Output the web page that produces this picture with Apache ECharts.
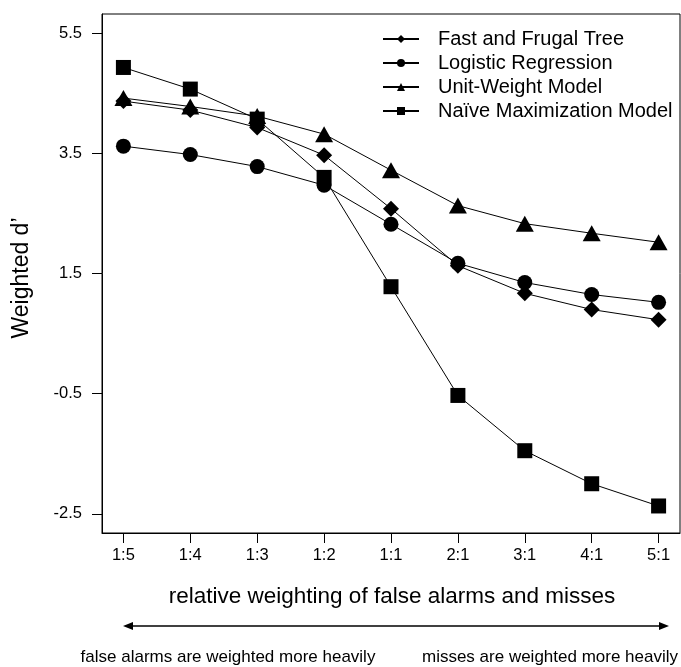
<!DOCTYPE html>
<html>
<head>
<meta charset="utf-8">
<script src="https://cdn.jsdelivr.net/npm/echarts@6/dist/echarts.min.js"></script>
<style>
html,body{margin:0;padding:0;background:#fff;}
#c{width:681px;height:667px;}
</style>
</head>
<body>
<div id="c"></div>
<script>
const categories = ['1:5','1:4','1:3','1:2','1:1','2:1','3:1','4:1','5:1'];
const yTicks = [-2.5, -0.5, 1.5, 3.5, 5.5];
const fastFrugal = [4.37, 4.22, 3.93, 3.47, 2.58, 1.63, 1.17, 0.90, 0.73];
const logistic   = [3.62, 3.48, 3.28, 2.97, 2.32, 1.67, 1.35, 1.15, 1.02];
const unitWeight = [4.42, 4.28, 4.12, 3.82, 3.22, 2.63, 2.33, 2.17, 2.02];
const naiveMax   = [4.93, 4.57, 4.07, 3.10, 1.28, -0.53, -1.45, -2.00, -2.37];

const FONT = '"Liberation Sans", Arial, Helvetica, sans-serif';
const pairs = arr => arr.map((v, i) => [i, v]);
const xIdx = categories.map((_, i) => i);

function mk(name, data, symbol, size) {
  return {
    name, type: 'line', data: pairs(data), symbol, symbolSize: size,
    lineStyle: { color: '#000', width: 1 },
    itemStyle: { color: '#000', borderWidth: 0 },
    showSymbol: true, animation: false, z: 3
  };
}

const chart = echarts.init(document.getElementById('c'), null, { renderer: 'canvas' });
chart.setOption({
  animation: false,
  backgroundColor: '#fff',
  textStyle: { fontFamily: FONT, color: '#000' },
  grid: { left: 102, top: 14, right: 1, bottom: 134, show: true, borderColor: '#000', borderWidth: 1, backgroundColor: 'transparent' },
  legend: {
    orient: 'vertical', left: 382, top: 29, padding: 0,
    itemWidth: 36, itemHeight: 10, itemGap: 4,
    textStyle: { fontFamily: FONT, fontSize: 20, color: '#000', lineHeight: 20, padding: [0, 0, 0, 14] },
    data: ['Fast and Frugal Tree', 'Logistic Regression', 'Unit-Weight Model', 'Naïve Maximization Model'],
    selectedMode: false
  },
  xAxis: {
    type: 'value', min: -0.32, max: 8.32,
    axisLine: { show: true, onZero: false, lineStyle: { color: '#000', width: 1 } },
    axisTick: { show: true, length: 10, customValues: xIdx, lineStyle: { color: '#000', width: 1 } },
    axisLabel: { customValues: xIdx, formatter: v => categories[Math.round(v)], fontFamily: FONT, fontSize: 16.5, color: '#000', margin: 14 },
    splitLine: { show: false }
  },
  yAxis: {
    type: 'value', min: -2.82, max: 5.82,
    axisLine: { show: true, onZero: false, lineStyle: { color: '#000', width: 1 } },
    axisTick: { show: true, length: 10, customValues: yTicks, lineStyle: { color: '#000', width: 1 } },
    axisLabel: { customValues: yTicks, formatter: v => v.toFixed(1), fontFamily: FONT, fontSize: 16.5, color: '#000', margin: 20 },
    splitLine: { show: false }
  },
  graphic: [
    { type: 'text', x: 22, y: 278, rotation: Math.PI / 2, style: { text: 'Weighted d\u2019', fontFamily: FONT, fontSize: 23, fill: '#000', align: 'center', verticalAlign: 'middle' } },
    { type: 'text', x: 392, y: 597, style: { text: 'relative weighting of false alarms and misses', fontFamily: FONT, fontSize: 22.5, fill: '#000', align: 'center', verticalAlign: 'middle' } },
    { type: 'line', shape: { x1: 130, y1: 626, x2: 662, y2: 626 }, style: { stroke: '#000', lineWidth: 1.5 } },
    { type: 'polygon', shape: { points: [[123, 626], [133, 622], [133, 630]] }, style: { fill: '#000' } },
    { type: 'polygon', shape: { points: [[669, 626], [659, 622], [659, 630]] }, style: { fill: '#000' } },
    { type: 'text', x: 228, y: 657, style: { text: 'false alarms are weighted more heavily', fontFamily: FONT, fontSize: 17, fill: '#000', align: 'center', verticalAlign: 'middle' } },
    { type: 'text', x: 550, y: 657, style: { text: 'misses are weighted more heavily', fontFamily: FONT, fontSize: 17, fill: '#000', align: 'center', verticalAlign: 'middle' } }
  ],
  series: [
    mk('Fast and Frugal Tree', fastFrugal, 'diamond', 16),
    mk('Logistic Regression', logistic, 'circle', 15),
    mk('Unit-Weight Model', unitWeight, 'triangle', [18, 16]),
    mk('Naïve Maximization Model', naiveMax, 'rect', 15)
  ]
});
</script>
</body>
</html>
